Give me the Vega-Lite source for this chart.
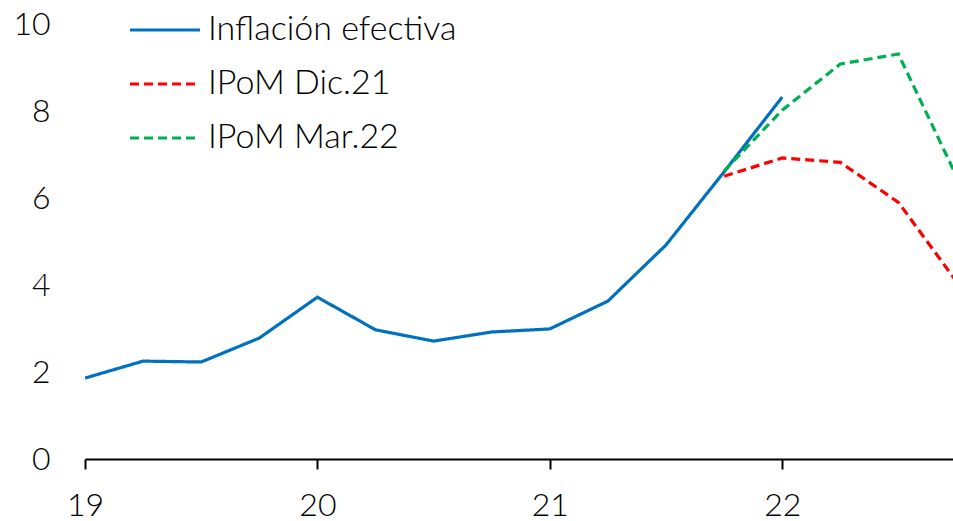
{
  "$schema": "https://vega.github.io/schema/vega-lite/v6.json",
  "width": 868,
  "height": 435,
  "autosize": {"type": "none"},
  "padding": {"left": 85, "top": 24, "right": 0, "bottom": 62},
  "background": "white",
  "config": {
    "view": {"stroke": null},
    "font": "Lato",
    "axis": {"labelFont": "Lato", "labelFontWeight": 300, "labelColor": "#000000", "labelFontSize": 32, "grid": false, "title": null}
  },
  "data": {
    "values": [
      {"t": 19.0, "v": 1.86, "s": "Inflación efectiva"},
      {"t": 19.25, "v": 2.25, "s": "Inflación efectiva"},
      {"t": 19.5, "v": 2.23, "s": "Inflación efectiva"},
      {"t": 19.75, "v": 2.78, "s": "Inflación efectiva"},
      {"t": 20.0, "v": 3.72, "s": "Inflación efectiva"},
      {"t": 20.25, "v": 2.97, "s": "Inflación efectiva"},
      {"t": 20.5, "v": 2.71, "s": "Inflación efectiva"},
      {"t": 20.75, "v": 2.92, "s": "Inflación efectiva"},
      {"t": 21.0, "v": 2.99, "s": "Inflación efectiva"},
      {"t": 21.25, "v": 3.63, "s": "Inflación efectiva"},
      {"t": 21.5, "v": 4.92, "s": "Inflación efectiva"},
      {"t": 21.75, "v": 6.6, "s": "Inflación efectiva"},
      {"t": 22.0, "v": 8.32, "s": "Inflación efectiva"},
      {"t": 21.75, "v": 6.5, "s": "IPoM Dic.21"},
      {"t": 22.0, "v": 6.92, "s": "IPoM Dic.21"},
      {"t": 22.25, "v": 6.82, "s": "IPoM Dic.21"},
      {"t": 22.5, "v": 5.9, "s": "IPoM Dic.21"},
      {"t": 22.75, "v": 4.08, "s": "IPoM Dic.21"},
      {"t": 21.75, "v": 6.62, "s": "IPoM Mar.22"},
      {"t": 22.0, "v": 8.02, "s": "IPoM Mar.22"},
      {"t": 22.25, "v": 9.08, "s": "IPoM Mar.22"},
      {"t": 22.5, "v": 9.31, "s": "IPoM Mar.22"},
      {"t": 22.75, "v": 6.5, "s": "IPoM Mar.22"}
    ]
  },
  "mark": {"type": "line", "strokeWidth": 3.2, "clip": true},
  "encoding": {
    "x": {
      "field": "t", "type": "quantitative",
      "scale": {"domain": [19, 22.735], "nice": false, "zero": false},
      "axis": {"values": [19, 20, 21, 22], "domainColor": "#000000", "domainWidth": 2, "tickColor": "#000000", "tickWidth": 2, "tickSize": 10, "labelPadding": 21, "labelFlush": false}
    },
    "y": {
      "field": "v", "type": "quantitative",
      "scale": {"domain": [0, 10], "nice": false},
      "axis": {"values": [0, 2, 4, 6, 8, 10], "domain": false, "ticks": false, "labelPadding": 35}
    },
    "color": {
      "field": "s", "type": "nominal",
      "scale": {"domain": ["Inflación efectiva", "IPoM Dic.21", "IPoM Mar.22"], "range": ["#0070C0", "#FF0000", "#00B050"]},
      "legend": {
        "title": null, "orient": "none", "legendX": 43, "legendY": -31,
        "symbolType": "stroke", "symbolSize": 4900, "symbolStrokeWidth": 3.2,
        "labelFont": "Lato", "labelFontWeight": 300, "labelFontSize": 34, "labelColor": "#000000", "labelOffset": 6,
        "rowPadding": -16, "labelLimit": 400
      }
    },
    "strokeDash": {
      "field": "s", "type": "nominal",
      "scale": {"domain": ["Inflación efectiva", "IPoM Dic.21", "IPoM Mar.22"], "range": [[1, 0], [9, 5], [9, 5]]},
      "legend": null
    }
  }
}
